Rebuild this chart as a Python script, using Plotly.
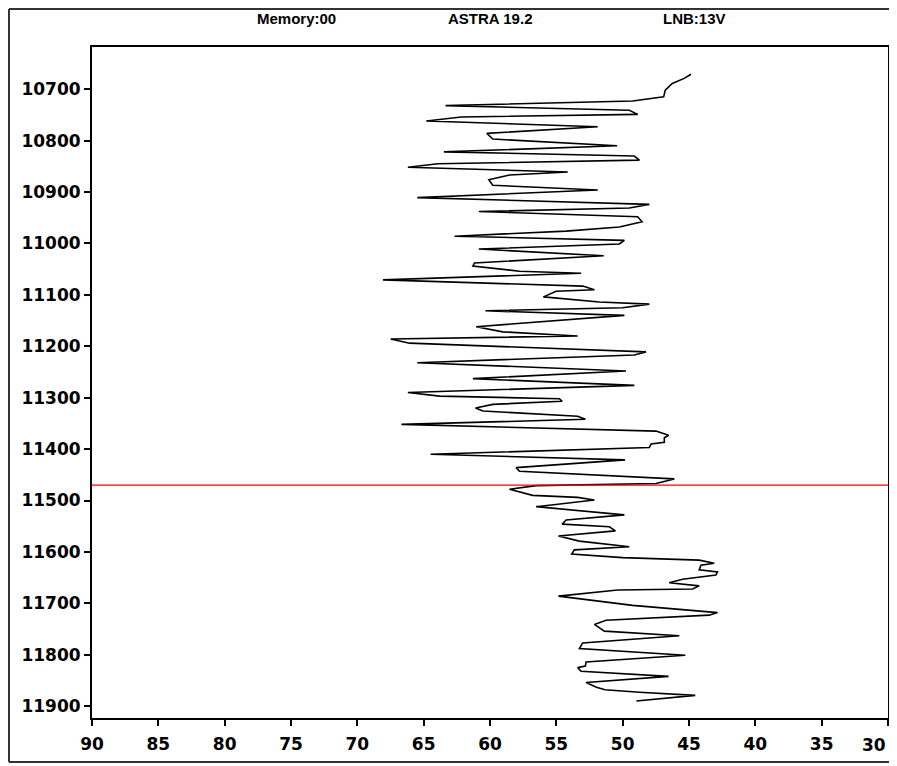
import plotly.graph_objects as go

# Signal level (x, reversed axis) versus frequency in MHz (y, reversed axis)
level = [44.85, 45.36, 46.26, 46.79, 46.91, 49.25, 63.35, 49.50, 48.87, 62.17,
         64.80, 51.88, 60.24, 59.79, 50.42, 63.48, 49.12, 48.74, 63.93, 66.19,
         54.14, 58.53, 60.09, 59.79, 51.88, 65.48, 47.99, 49.50, 60.84, 48.87,
         48.54, 50.25, 54.26, 62.67, 49.87, 50.25, 60.84, 51.43, 61.17, 61.29,
         57.78, 53.13, 68.07, 53.01, 52.13, 55.02, 55.97, 51.76, 47.99, 50.00,
         60.34, 49.87, 61.04, 59.04, 53.39, 67.49, 66.06, 48.24, 49.12, 65.48,
         49.75, 61.29, 49.12, 66.19, 63.80, 54.77, 54.56, 59.79, 61.09, 60.54,
         53.39, 52.81, 66.68, 47.49, 46.54, 46.86, 46.86, 47.86, 47.99, 64.48,
         49.82, 58.03, 57.78, 46.11, 47.49, 56.52, 58.53, 56.78, 53.39, 52.13,
         56.52, 49.87, 54.26, 54.56, 51.00, 50.55, 54.84, 53.26, 49.50, 53.64,
         53.84, 50.00, 44.23, 43.10, 44.10, 44.23, 42.85, 42.97, 45.48, 46.49,
         44.23, 44.73, 50.38, 54.84, 49.25, 42.85, 43.47, 51.25, 52.13, 51.38,
         45.73, 53.01, 53.26, 45.28, 52.76, 52.81, 53.39, 53.13, 46.54, 52.76,
         51.98, 51.33, 48.74, 44.53, 48.97]

freq = [10671, 10679, 10689, 10702, 10715, 10723, 10732, 10741, 10749, 10754,
        10762, 10773, 10786, 10797, 10810, 10822, 10830, 10838, 10845, 10852,
        10861, 10867, 10876, 10887, 10896, 10911, 10924, 10931, 10938, 10948,
        10958, 10968, 10976, 10986, 10994, 11001, 11011, 11024, 11038, 11044,
        11054, 11058, 11071, 11083, 11090, 11093, 11104, 11114, 11118, 11125,
        11131, 11140, 11162, 11172, 11180, 11186, 11194, 11211, 11217, 11232,
        11248, 11263, 11276, 11290, 11297, 11302, 11307, 11313, 11320, 11326,
        11336, 11342, 11352, 11365, 11373, 11378, 11387, 11390, 11397, 11410,
        11421, 11436, 11443, 11458, 11467, 11471, 11478, 11490, 11494, 11499,
        11512, 11528, 11538, 11546, 11551, 11559, 11569, 11579, 11590, 11596,
        11604, 11611, 11616, 11622, 11626, 11635, 11639, 11645, 11653, 11660,
        11666, 11672, 11674, 11686, 11704, 11718, 11723, 11733, 11741, 11754,
        11763, 11777, 11788, 11801, 11814, 11822, 11825, 11832, 11842, 11854,
        11863, 11868, 11873, 11879, 11890]

marker_freq = 11470
y_ticks = [10700, 10800, 10900, 11000, 11100, 11200, 11300, 11400, 11500,
           11600, 11700, 11800, 11900]
x_ticks = [90, 85, 80, 75, 70, 65, 60, 55, 50, 45, 40, 35, 30]
header = ["Memory:00", "ASTRA 19.2", "LNB:13V"]

TITLE_FONT = "Liberation Sans, Arial, sans-serif"
TICK_FONT = "DejaVu Sans, Liberation Sans, sans-serif"
tick_font = dict(family=TICK_FONT, size=17, color="black", weight="bold")

fig = go.Figure()
fig.add_trace(go.Scatter(x=level, y=freq, mode="lines",
                         line=dict(color="black", width=1.6),
                         hoverinfo="skip", showlegend=False))

fig.add_shape(type="line", xref="paper", x0=0, x1=1, yref="y",
              y0=marker_freq, y1=marker_freq,
              line=dict(color="#ff0000", width=1.2))

# outer frame (left, top, bottom edges)
frame = dict(color="#333333", width=2)
fig.add_shape(type="line", xref="paper", yref="paper",
              x0=-0.1043, x1=-0.1043, y0=-0.0656, y1=1.0566, line=frame)
fig.add_shape(type="line", xref="paper", yref="paper",
              x0=-0.1043, x1=1.02, y0=1.0566, y1=1.0566, line=frame)
fig.add_shape(type="line", xref="paper", yref="paper",
              x0=-0.1043, x1=1.02, y0=-0.0656, y1=-0.0656, line=frame)

for txt, xp in zip(header, [0.2575, 0.5, 0.7575]):
    fig.add_annotation(text=txt, xref="paper", yref="paper", x=xp, y=1.0432,
                       showarrow=False, xanchor="center", yanchor="middle",
                       font=dict(family=TITLE_FONT, size=15, color="black", weight="bold"))

# last x tick label, anchored inward so that it stays inside the page edge
x_text = [str(v) for v in x_ticks]
last_label = x_text[-1]
x_text[-1] = ""
fig.add_annotation(text=last_label, xref="x", yref="paper", x=x_ticks[-1], y=-0.0405,
                   showarrow=False, xanchor="right", yanchor="middle", xshift=0,
                   font=tick_font)

fig.update_layout(
    width=881, height=758,
    margin=dict(l=84, r=1, t=39, b=48, autoexpand=False),
    paper_bgcolor="white", plot_bgcolor="white",
    font=dict(family=TICK_FONT, size=17, color="black", weight="bold"),
)
fig.update_xaxes(range=[90, 30], tickvals=x_ticks, ticktext=x_text,
                 showgrid=False, zeroline=False, showline=True, linecolor="black",
                 linewidth=2, mirror=True, ticks="outside", ticklen=6, tickwidth=2,
                 tickcolor="black", ticklabeloverflow="allow", automargin=False,
                 ticklabelstandoff=4, tickfont=tick_font)
fig.update_yaxes(range=[11923, 10618], tickvals=y_ticks, ticktext=[str(v) for v in y_ticks],
                 showgrid=False, zeroline=False, showline=True, linecolor="black",
                 linewidth=2, mirror=True, ticks="outside", ticklen=6, tickwidth=2,
                 tickcolor="black", ticklabeloverflow="allow", automargin=False,
                 tickfont=tick_font)

fig.write_html("out.html")
